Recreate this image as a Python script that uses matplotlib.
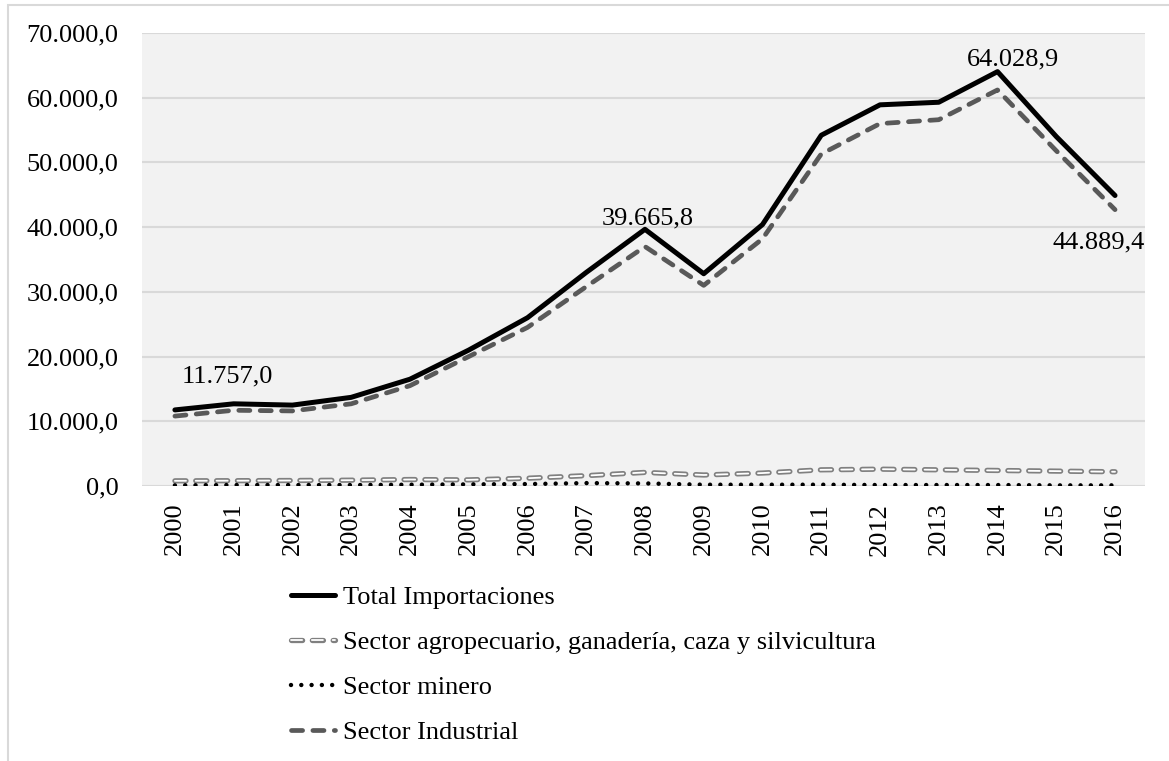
import numpy as np
import matplotlib
matplotlib.use('Agg')
import matplotlib.pyplot as plt
import matplotlib.patheffects as pe
from matplotlib.patches import Rectangle
from matplotlib.ticker import FuncFormatter

# datos (millones US$)
anios = [2000, 2001, 2002, 2003, 2004, 2005, 2006, 2007, 2008,
         2009, 2010, 2011, 2012, 2013, 2014, 2015, 2016]
total = [11757.0, 12700, 12500, 13700, 16500, 21000, 26000, 33000, 39665.8,
         32800, 40400, 54200, 58900, 59300, 64028.9, 54000, 44889.4]
agro = [800, 820, 850, 900, 1000, 950, 1200, 1600, 2100,
        1700, 2000, 2500, 2600, 2500, 2400, 2300, 2200]
minero = [100, 150, 150, 150, 200, 250, 300, 450, 400,
          200, 200, 200, 150, 150, 150, 100, 100]
industrial = [10800, 11700, 11600, 12700, 15500, 20000, 24500, 30800, 37000,
              31000, 38200, 51300, 56000, 56600, 61200, 51800, 42700]

nombres = ['Total Importaciones',
           'Sector agropecuario, ganadería, caza y silvicultura',
           'Sector minero',
           'Sector Industrial']

plt.rcParams['font.family'] = 'Liberation Serif'
plt.rcParams['font.size'] = 19
plt.rcParams['lines.scale_dashes'] = False


def fmt_num(v, pos=None):
    s = '{:,.1f}'.format(v)
    return s.replace(',', 'X').replace('.', ',').replace('X', '.')


fig = plt.figure(figsize=(11.69, 7.61), dpi=100)
ax = fig.add_axes([142/1169, 1-486/761, (1145-142)/1169, (486-33)/761])
ax.set_facecolor('#f2f2f2')

# marco exterior
fig.patches.append(Rectangle((8/1169, -0.05), 1.1, 1.05-5/761, transform=fig.transFigure,
                             fill=False, edgecolor='#d9d9d9', linewidth=1.5))

x = np.array(anios)
ax.plot(x, total, color='black', lw=3.6, solid_capstyle='round', label=nombres[0], zorder=5)
ax.plot(x, agro, color='white', lw=1.3, linestyle=(0, (8, 7)), dash_capstyle='round',
        path_effects=[pe.Stroke(linewidth=3.8, foreground='#808080'), pe.Normal()],
        label=nombres[1], zorder=3)
ax.plot(x, minero, color='black', lw=3.2, linestyle=(0, (0.01, 7.4)), dash_capstyle='round',
        label=nombres[2], zorder=4)
ax.plot(x, industrial, color='#595959', lw=3.4, linestyle=(0, (8, 7.4)), dash_capstyle='round',
        label=nombres[3], zorder=4)

# etiquetas de datos
ax.annotate(fmt_num(total[0]), (x[0], total[0]), xytext=(38, 16), textcoords='offset points',
            ha='center', va='bottom')
ax.annotate(fmt_num(total[8]), (x[8], total[8]), xytext=(2, 0), textcoords='offset points',
            ha='center', va='bottom')
ax.annotate(fmt_num(total[14]), (x[14], total[14]), xytext=(11, 1), textcoords='offset points',
            ha='center', va='bottom')
ax.annotate(fmt_num(total[16]), (x[16], total[16]), xytext=(-12, -26), textcoords='offset points',
            ha='center', va='top')

ax.set_xlim(1999.44, 2016.51)
ax.set_ylim(0, 70000)
ax.set_xticks(x)
ax.set_xticklabels([str(a) for a in anios], rotation=90)
ax.set_yticks(np.arange(0, 70001, 10000))
ax.yaxis.set_major_formatter(FuncFormatter(fmt_num))
ax.tick_params(axis='both', length=0)
ax.tick_params(axis='y', pad=17)
ax.tick_params(axis='x', pad=12)
ax.grid(axis='y', color='#d9d9d9', lw=1.5)
ax.set_axisbelow(True)
for s in ax.spines.values():
    s.set_visible(False)

fig.legend(loc='upper left', bbox_to_anchor=(280/1169, 1-575/761), frameon=False,
           handlelength=1.7, handletextpad=0.27, labelspacing=0.82, borderaxespad=0)

fig.savefig('out.png', dpi=100)
